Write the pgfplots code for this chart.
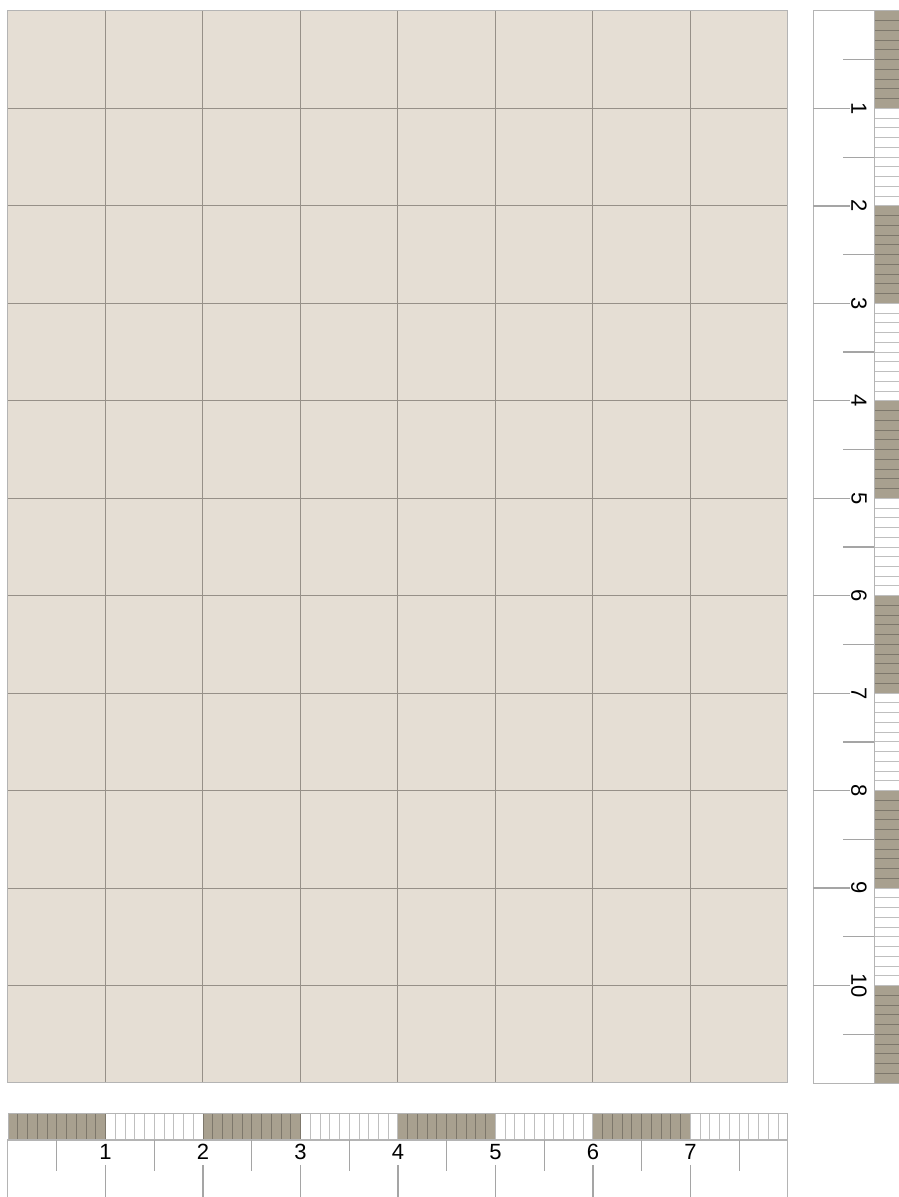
\documentclass[border=0pt]{standalone}
\usepackage{pgfplots}
\pgfplotsset{compat=1.18}
\usepackage{fontspec}
\setmainfont{Liberation Sans}
\definecolor{paper}{RGB}{229,222,212}
\definecolor{gridc}{RGB}{150,144,136}
\definecolor{bandc}{RGB}{168,160,143}
\definecolor{framec}{RGB}{180,180,180}
\definecolor{tickc}{RGB}{165,165,165}
\tikzset{lab/.style={font=\fontsize{11pt}{13pt}\selectfont, text=black, inner sep=0pt}}
\begin{document}
\begin{tikzpicture}
\pgfplotsset{
  every axis/.append style={scale only axis, anchor=south west, clip=false},
  noticks/.style={xticklabels={}, yticklabels={}, major tick length=0pt, minor tick length=0pt}
}
% main grid
\begin{axis}[at={(4pt,57pt)}, width=390pt, height=536pt,
  xmin=0, xmax=8, ymin=0, ymax=11,
  xtick={0,...,8}, ytick={0,...,11}, noticks,
  grid=major, major grid style={gridc, line width=0.5pt},
  axis background/.style={fill=paper},
  axis line style={framec, line width=0.5pt}]
\addplot[draw=none] coordinates {(0,0)};
\end{axis}
% bottom band
\begin{axis}[at={(4pt,28.5pt)}, width=390pt, height=13.5pt,
  xmin=0, xmax=8, ymin=0, ymax=1,
  xtick={0,...,8}, minor x tick num=9, ytick=\empty, noticks,
  grid=both, grid style={black, opacity=0.25, line width=0.5pt},
  axis on top, axis line style={framec, line width=0.5pt}]
\addplot[fill=bandc, draw=none] coordinates {(0,0)(1,0)(1,1)(0,1)} -- cycle;
\addplot[fill=bandc, draw=none] coordinates {(2,0)(3,0)(3,1)(2,1)} -- cycle;
\addplot[fill=bandc, draw=none] coordinates {(4,0)(5,0)(5,1)(4,1)} -- cycle;
\addplot[fill=bandc, draw=none] coordinates {(6,0)(7,0)(7,1)(6,1)} -- cycle;
\end{axis}
% bottom ticks
\begin{axis}[at={(4pt,-4pt)}, width=390pt, height=32.5pt,
  xmin=0, xmax=8, ymin=1140, ymax=1205, y dir=reverse,
  xtick=\empty, ytick=\empty, axis line style={framec, line width=0.5pt},
  unbounded coords=jump]
\addplot[tickc, line width=0.6pt] coordinates {
 (0.5,1140)(0.5,1171)(nan,nan)(1.5,1140)(1.5,1171)(nan,nan)
 (2.5,1140)(2.5,1171)(nan,nan)(3.5,1140)(3.5,1171)(nan,nan)
 (4.5,1140)(4.5,1171)(nan,nan)(5.5,1140)(5.5,1171)(nan,nan)
 (6.5,1140)(6.5,1171)(nan,nan)(7.5,1140)(7.5,1171)};
\addplot[tickc, line width=0.6pt] coordinates {
 (1,1165)(1,1205)(nan,nan)(2,1165)(2,1205)(nan,nan)
 (3,1165)(3,1205)(nan,nan)(4,1165)(4,1205)(nan,nan)
 (5,1165)(5,1205)(nan,nan)(6,1165)(6,1205)(nan,nan)
 (7,1165)(7,1205)};
\node[lab] at (axis cs:1,1152) {1};
\node[lab] at (axis cs:2,1152) {2};
\node[lab] at (axis cs:3,1152) {3};
\node[lab] at (axis cs:4,1152) {4};
\node[lab] at (axis cs:5,1152) {5};
\node[lab] at (axis cs:6,1152) {6};
\node[lab] at (axis cs:7,1152) {7};
\end{axis}
% right band
\begin{axis}[at={(437pt,57pt)}, width=15.5pt, height=536pt,
  xmin=0, xmax=1, ymin=0, ymax=11, y dir=reverse,
  ytick={0,...,11}, minor y tick num=9, xtick=\empty, noticks,
  grid=both, grid style={black, opacity=0.25, line width=0.5pt},
  axis on top, axis line style={framec, line width=0.5pt}]
\addplot[fill=bandc, draw=none] coordinates {(0,0)(1,0)(1,1)(0,1)} -- cycle;
\addplot[fill=bandc, draw=none] coordinates {(0,2)(1,2)(1,3)(0,3)} -- cycle;
\addplot[fill=bandc, draw=none] coordinates {(0,4)(1,4)(1,5)(0,5)} -- cycle;
\addplot[fill=bandc, draw=none] coordinates {(0,6)(1,6)(1,7)(0,7)} -- cycle;
\addplot[fill=bandc, draw=none] coordinates {(0,8)(1,8)(1,9)(0,9)} -- cycle;
\addplot[fill=bandc, draw=none] coordinates {(0,10)(1,10)(1,11)(0,11)} -- cycle;
\end{axis}
% right ticks
\begin{axis}[at={(406.5pt,57pt)}, width=30.5pt, height=536pt,
  xmin=813, xmax=874, ymin=0, ymax=11, y dir=reverse,
  xtick=\empty, ytick=\empty, axis line style={framec, line width=0.5pt},
  unbounded coords=jump]
\addplot[tickc, line width=0.6pt] coordinates {
 (813,1)(850,1)(nan,nan)(813,2)(850,2)(nan,nan)(813,3)(850,3)(nan,nan)
 (813,4)(850,4)(nan,nan)(813,5)(850,5)(nan,nan)(813,6)(850,6)(nan,nan)
 (813,7)(850,7)(nan,nan)(813,8)(850,8)(nan,nan)(813,9)(850,9)(nan,nan)
 (813,10)(850,10)};
\addplot[tickc, line width=0.6pt] coordinates {
 (843,0.5)(874,0.5)(nan,nan)(843,1.5)(874,1.5)(nan,nan)(843,2.5)(874,2.5)(nan,nan)
 (843,3.5)(874,3.5)(nan,nan)(843,4.5)(874,4.5)(nan,nan)(843,5.5)(874,5.5)(nan,nan)
 (843,6.5)(874,6.5)(nan,nan)(843,7.5)(874,7.5)(nan,nan)(843,8.5)(874,8.5)(nan,nan)
 (843,9.5)(874,9.5)(nan,nan)(843,10.5)(874,10.5)};
\node[lab, rotate=-90] at (axis cs:859,1) {1};
\node[lab, rotate=-90] at (axis cs:859,2) {2};
\node[lab, rotate=-90] at (axis cs:859,3) {3};
\node[lab, rotate=-90] at (axis cs:859,4) {4};
\node[lab, rotate=-90] at (axis cs:859,5) {5};
\node[lab, rotate=-90] at (axis cs:859,6) {6};
\node[lab, rotate=-90] at (axis cs:859,7) {7};
\node[lab, rotate=-90] at (axis cs:859,8) {8};
\node[lab, rotate=-90] at (axis cs:859,9) {9};
\node[lab, rotate=-90] at (axis cs:859,10) {10};
\end{axis}
\pgfresetboundingbox
\path[use as bounding box] (0,0) rectangle (449pt,598.5pt);
\end{tikzpicture}
\end{document}
